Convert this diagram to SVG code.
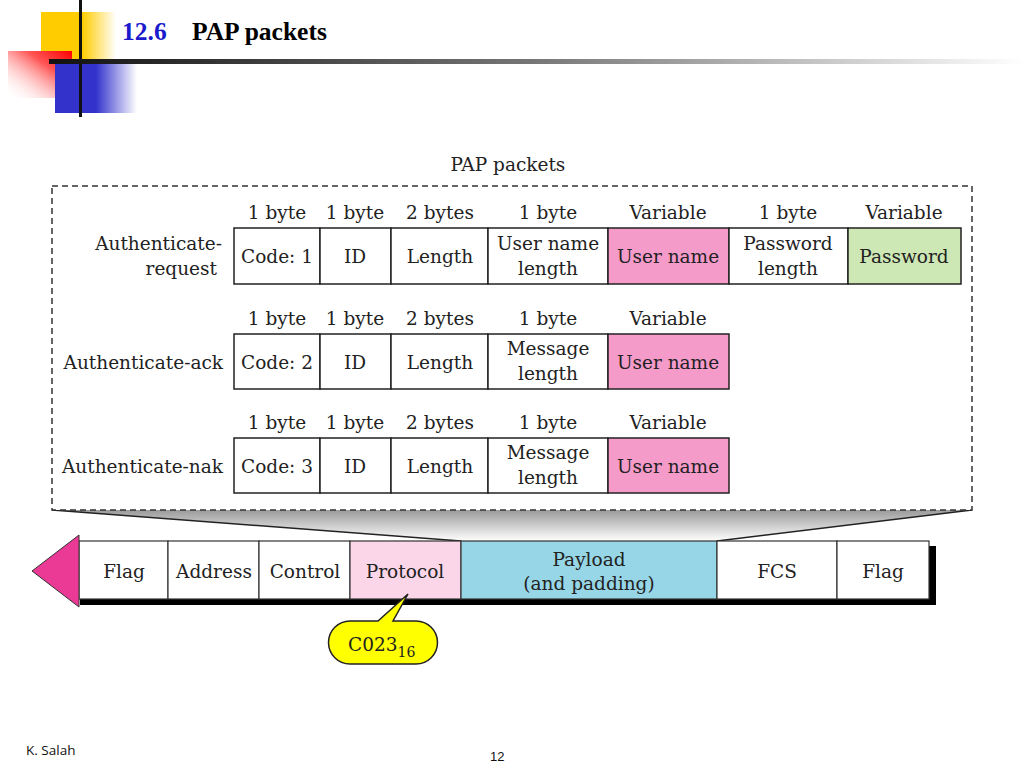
<svg xmlns="http://www.w3.org/2000/svg" width="1024" height="768" viewBox="0 0 1024 768">
<defs>
<linearGradient id="gYel" x1="0" y1="0" x2="1" y2="0"><stop offset="0" stop-color="#ffcc00"/><stop offset="0.55" stop-color="#ffcc00"/><stop offset="1" stop-color="#ffcc00" stop-opacity="0"/></linearGradient>
<linearGradient id="gRed" x1="1" y1="0" x2="0" y2="1"><stop offset="0" stop-color="#ff0000"/><stop offset="0.35" stop-color="#ff5555"/><stop offset="1" stop-color="#ffffff" stop-opacity="0"/></linearGradient>
<linearGradient id="gBlue" x1="0" y1="0" x2="1" y2="0"><stop offset="0" stop-color="#3333cc"/><stop offset="0.5" stop-color="#3333cc"/><stop offset="1" stop-color="#3333cc" stop-opacity="0"/></linearGradient>
<linearGradient id="gLine" x1="0" y1="0" x2="1" y2="0"><stop offset="0" stop-color="#111"/><stop offset="0.5" stop-color="#777"/><stop offset="1" stop-color="#fff"/></linearGradient>
<linearGradient id="gFun" x1="0" y1="0" x2="0" y2="1"><stop offset="0" stop-color="#9a9a9a"/><stop offset="1" stop-color="#ffffff"/></linearGradient>
<style>
.t{font-family:"DejaVu Serif","Liberation Serif",serif;font-size:18.5px;fill:#222;}
.c{text-anchor:middle;}
.r{text-anchor:end;}
.cell{fill:#fff;stroke:#222;stroke-width:1.5;}
.pk{fill:#f59bca;}
.gr{fill:#cde8b4;}
.fr{fill:#fff;stroke:#333;stroke-width:1.2;}
.fr.pr{fill:#fbd6e8;}
.fr.pl{fill:#97d6e6;}
</style>
</defs>
<rect width="1024" height="768" fill="#fff"/>
<g id="deco">
<rect x="41" y="12" width="75" height="49" fill="url(#gYel)"/>
<rect x="8" y="51" width="64" height="47" fill="url(#gRed)"/>
<rect x="55" y="62" width="82" height="51" fill="url(#gBlue)"/>
<rect x="79" y="0" width="3" height="117" fill="#111"/>
<rect x="49" y="59" width="975" height="5" fill="url(#gLine)"/>
</g>
<g id="title" font-family="Liberation Serif,serif" font-weight="bold" font-size="25.5">
<text x="122" y="40" fill="#1a1acc">12.6</text>
<text x="192" y="40" fill="#000">PAP packets</text>
</g>
<text class="t c" x="508" y="171">PAP packets</text>
<g id="funnel">
<polygon points="52,510 972,510 717,541 461,541" fill="url(#gFun)"/>
<line x1="52" y1="510" x2="461" y2="541" stroke="#222" stroke-width="1.5"/>
<line x1="972" y1="510" x2="717" y2="541" stroke="#222" stroke-width="1.5"/>
</g>
<rect id="box" x="52" y="186" width="920" height="324" fill="#fff" stroke="#333" stroke-width="1.5" stroke-dasharray="6,4"/>
<g id="row1">
<text class="t r" x="222" y="250">Authenticate-</text>
<text class="t r" x="217" y="275">request</text>
<g class="t c">
<text x="277" y="219">1 byte</text><text x="355" y="219">1 byte</text><text x="440" y="219">2 bytes</text><text x="548" y="219">1 byte</text><text x="668" y="219">Variable</text><text x="788" y="219">1 byte</text><text x="904" y="219">Variable</text>
</g>
<rect class="cell" x="234" y="228" width="86" height="56"/>
<rect class="cell" x="320" y="228" width="71" height="56"/>
<rect class="cell" x="391" y="228" width="97" height="56"/>
<rect class="cell" x="488" y="228" width="120" height="56"/>
<rect class="cell pk" x="608" y="228" width="121" height="56"/>
<rect class="cell" x="729" y="228" width="119" height="56"/>
<rect class="cell gr" x="848" y="228" width="113" height="56"/>
<g class="t c">
<text x="277" y="263">Code: 1</text><text x="355" y="263">ID</text><text x="440" y="263">Length</text>
<text x="548" y="250">User name</text><text x="548" y="275">length</text>
<text x="668" y="263">User name</text>
<text x="788" y="250">Password</text><text x="788" y="275">length</text>
<text x="904" y="263">Password</text>
</g>
</g>
<g id="row2">
<text class="t r" x="223" y="369">Authenticate-ack</text>
<g class="t c">
<text x="277" y="325">1 byte</text><text x="355" y="325">1 byte</text><text x="440" y="325">2 bytes</text><text x="548" y="325">1 byte</text><text x="668" y="325">Variable</text>
</g>
<rect class="cell" x="234" y="334" width="86" height="55"/>
<rect class="cell" x="320" y="334" width="71" height="55"/>
<rect class="cell" x="391" y="334" width="97" height="55"/>
<rect class="cell" x="488" y="334" width="120" height="55"/>
<rect class="cell pk" x="608" y="334" width="121" height="55"/>
<g class="t c">
<text x="277" y="369">Code: 2</text><text x="355" y="369">ID</text><text x="440" y="369">Length</text>
<text x="548" y="355">Message</text><text x="548" y="380">length</text>
<text x="668" y="369">User name</text>
</g>
</g>
<g id="row3">
<text class="t r" x="223" y="473">Authenticate-nak</text>
<g class="t c">
<text x="277" y="429">1 byte</text><text x="355" y="429">1 byte</text><text x="440" y="429">2 bytes</text><text x="548" y="429">1 byte</text><text x="668" y="429">Variable</text>
</g>
<rect class="cell" x="234" y="438" width="86" height="55"/>
<rect class="cell" x="320" y="438" width="71" height="55"/>
<rect class="cell" x="391" y="438" width="97" height="55"/>
<rect class="cell" x="488" y="438" width="120" height="55"/>
<rect class="cell pk" x="608" y="438" width="121" height="55"/>
<g class="t c">
<text x="277" y="473">Code: 3</text><text x="355" y="473">ID</text><text x="440" y="473">Length</text>
<text x="548" y="459">Message</text><text x="548" y="484">length</text>
<text x="668" y="473">User name</text>
</g>
</g>
<g id="frame">
<rect x="80" y="598" width="856" height="7" fill="#000"/>
<rect x="929" y="546" width="7" height="59" fill="#000"/>
<rect class="fr" x="79" y="541" width="89" height="58"/>
<rect class="fr" x="168" y="541" width="91" height="58"/>
<rect class="fr" x="259" y="541" width="91" height="58"/>
<rect class="fr pr" x="350" y="541" width="111" height="58"/>
<rect class="fr pl" x="461" y="541" width="256" height="58"/>
<rect class="fr" x="717" y="541" width="120" height="58"/>
<rect class="fr" x="837" y="541" width="92" height="58"/>
<polygon points="32,571 79,535 79,607" fill="#ea3a96" stroke="#333" stroke-width="1"/>
<g class="t c">
<text x="124" y="578">Flag</text><text x="214" y="578">Address</text><text x="305" y="578">Control</text><text x="405" y="578">Protocol</text>
<text x="589" y="566">Payload</text><text x="589" y="590">(and padding)</text>
<text x="777" y="578">FCS</text><text x="883" y="578">Flag</text>
</g>
</g>
<g id="callout">
<path d="M 408,594 L 393,621 L 416,621 A 21,21 0 0 1 416,664 L 350,664 A 21,21 0 0 1 350,621 L 378,621 Z" fill="#ffff00" stroke="#222" stroke-width="1.5"/>
<text class="t" x="348" y="651">C023<tspan font-size="14" dy="6">16</tspan></text>
</g>
<text x="26" y="755" font-family="Open Sans,Liberation Sans,sans-serif" font-size="13.5" fill="#111">K. Salah</text>
<text x="490" y="761" font-family="Liberation Sans,sans-serif" font-size="13" fill="#111">12</text>
</svg>
